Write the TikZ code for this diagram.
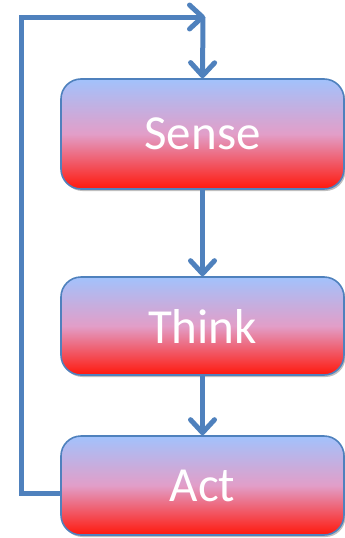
\documentclass[tikz,border=0pt]{standalone}
\usepackage{fontspec}
\setmainfont{Carlito}
\usetikzlibrary{arrows.meta,shadows}
\definecolor{linkblue}{RGB}{79,129,189}
\definecolor{boxtop}{RGB}{162,194,252}
\definecolor{boxmid}{RGB}{226,158,200}
\definecolor{boxbot}{RGB}{255,24,12}
\tikzset{
  stagebox/.style={draw=linkblue, line width=1.6pt, rounded corners=20pt,
    top color=boxtop, bottom color=boxbot, middle color=boxmid,
    minimum width=283pt, text=white, font=\fontsize{49}{54}\selectfont,
    inner sep=0pt,
    drop shadow={shadow xshift=1.5pt, shadow yshift=-2pt, opacity=0.25, fill=black}},
  flow/.style={draw=linkblue, line width=5pt, line join=miter,
    -{Straight Barb[length=13pt,width=24pt,line width=5pt,round]}}
}
\begin{document}
\begin{tikzpicture}[x=1pt,y=-1pt]
  \useasboundingbox (0,0) rectangle (345,538);
  \node[stagebox, minimum height=110pt] (sense) at (202.5,134) {Sense};
  \node[stagebox, minimum height=98pt] (think) at (202.5,326) {Think};
  \node[stagebox, minimum height=99pt] (act) at (202.5,485.5) {Act};
  \coordinate (corner) at (203,17);
  \coordinate (looptip) at (205,17);
  \coordinate (lowleft) at (21,493);
  \coordinate (topleft) at (21,17);
  \draw[flow] (sense) -- (think);
  \draw[flow] (think) -- (act);
  \draw[flow] (act.west |- lowleft) -- (lowleft) -- (topleft) -- (looptip);
  \draw[flow] (corner) -- (sense.north);
\end{tikzpicture}
\end{document}
